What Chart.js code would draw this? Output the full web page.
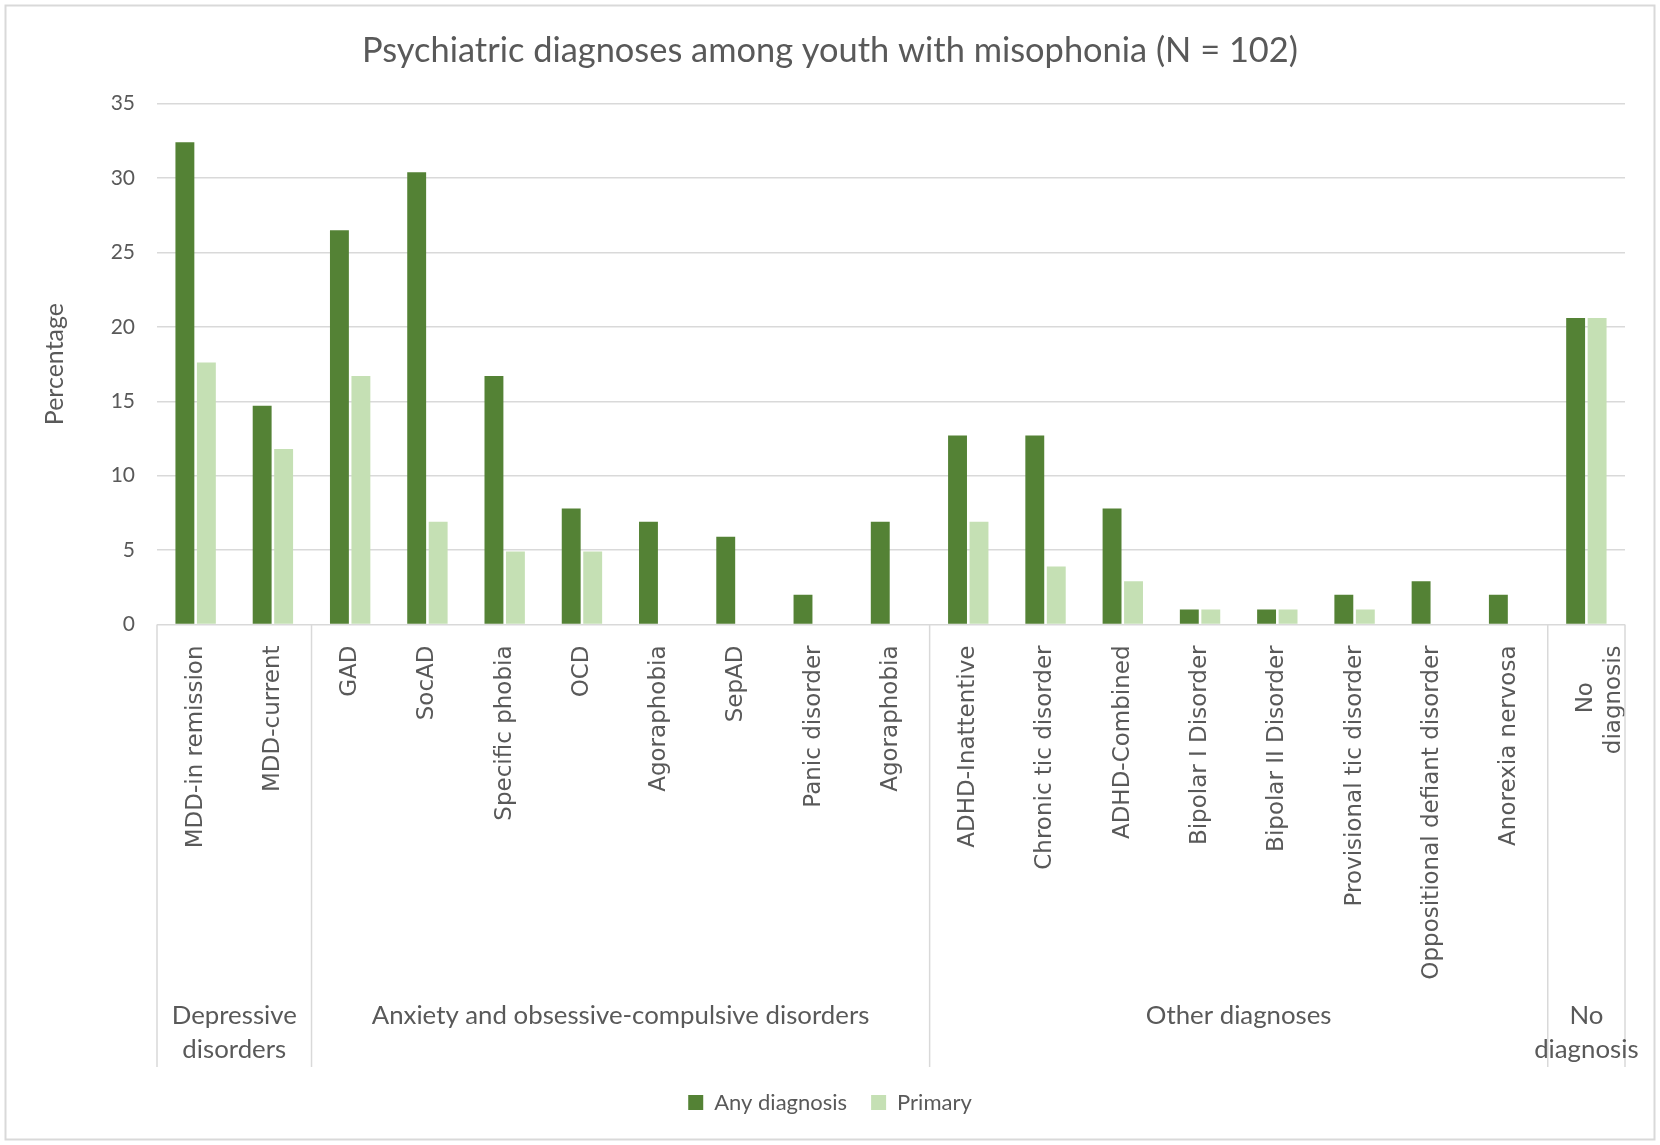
<!DOCTYPE html>
<html>
<head>
<meta charset="utf-8">
<title>Psychiatric diagnoses among youth with misophonia</title>
<script src="https://cdn.jsdelivr.net/npm/chart.js@4.4.1/dist/chart.umd.min.js"></script>
<style>
  html, body { margin: 0; padding: 0; background: #fff; overflow: hidden; }
  canvas { display: block; }
</style>
</head>
<body>
<canvas id="chart" width="1660" height="1145"></canvas>
<script>
// Data (percent of N = 102)
const categories = [
    'MDD-in remission', 'MDD-current',
    'GAD', 'SocAD', 'Specific phobia', 'OCD', 'Agoraphobia', 'SepAD', 'Panic disorder', 'Agoraphobia',
    'ADHD-Inattentive', 'Chronic tic disorder', 'ADHD-Combined', 'Bipolar I Disorder', 'Bipolar II Disorder',
    'Provisional tic disorder', 'Oppositional defiant disorder', 'Anorexia nervosa',
    ['No     ', 'diagnosis']
];
const anyDiagnosis = [32.4, 14.7, 26.5, 30.4, 16.7, 7.8, 6.9, 5.9, 2.0, 6.9, 12.7, 12.7, 7.8, 1.0, 1.0, 2.0, 2.9, 2.0, 20.6];
const primary      = [17.6, 11.8, 16.7, 6.9, 4.9, 4.9, 0, 0, 0, 0, 6.9, 3.9, 2.9, 1.0, 1.0, 1.0, 0, 0, 20.6];

const groupLabels = [['Depressive', 'disorders'], ['Anxiety and obsessive-compulsive disorders'], ['Other diagnoses'], ['No', 'diagnosis']];
const groupSizes = [2, 8, 8, 1];

const yTicks = [0, 5, 10, 15, 20, 25, 30, 35];

const textColor = '#595959';
const lineColor = '#d9d9d9';
const bodyFont = 'Lato';

// draws the second level of the category axis, the group dividers and the frame
const groupPlugin = {
    id: 'groups',
    afterDraw(chart) {
        const ctx = chart.ctx;
        const x = chart.scales.x;
        const bottom = chart.chartArea.bottom;
        const boundary = (i) => {
            if (i <= 0) return x.left;
            if (i >= categories.length) return x.right;
            return (x.getPixelForValue(i - 1) + x.getPixelForValue(i)) / 2;
        };

        ctx.save();
        ctx.strokeStyle = lineColor;
        ctx.lineWidth = 1.5;

        let start = 0;
        const edges = [0];
        groupSizes.forEach(n => { start += n; edges.push(start); });
        edges.forEach(i => {
            const px = boundary(i);
            ctx.beginPath();
            ctx.moveTo(px, bottom);
            ctx.lineTo(px, 1067);
            ctx.stroke();
        });

        ctx.fillStyle = textColor;
        ctx.font = '25.8px ' + bodyFont;
        ctx.textAlign = 'center';
        ctx.textBaseline = 'middle';
        groupLabels.forEach((lines, g) => {
            const cx = (boundary(edges[g]) + boundary(edges[g + 1])) / 2;
            lines.forEach((line, k) => {
                ctx.fillText(line, cx, 1016 + k * 34);
            });
        });

        // outer frame
        ctx.lineWidth = 2;
        ctx.strokeRect(5.5, 5.5, 1649, 1134);
        ctx.restore();
    }
};

const ctx = document.getElementById('chart').getContext('2d');
new Chart(ctx, {
    type: 'bar',
    data: {
        labels: categories,
        datasets: [
            {
                label: 'Any diagnosis',
                data: anyDiagnosis,
                backgroundColor: '#548235',
                borderWidth: 0,
                categoryPercentage: 0.556,
                barPercentage: 0.88
            },
            {
                label: 'Primary',
                data: primary,
                backgroundColor: '#c5e0b4',
                borderWidth: 0,
                categoryPercentage: 0.556,
                barPercentage: 0.88
            }
        ]
    },
    options: {
        responsive: false,
        animation: false,
        layout: {
            padding: { left: 35, right: 35, top: 0, bottom: 21.5 }
        },
        plugins: {
            title: {
                display: true,
                text: 'Psychiatric diagnoses among youth with misophonia (N = 102)',
                color: textColor,
                font: { family: bodyFont, size: 34.4, weight: 'normal' },
                padding: { top: 30, bottom: 32.4 }
            },
            legend: {
                position: 'bottom',
                labels: {
                    color: textColor,
                    font: { family: bodyFont, size: 22 },
                    boxWidth: 15,
                    boxHeight: 15,
                    padding: 24
                }
            },
            tooltip: { enabled: false }
        },
        scales: {
            x: {
                grid: { display: false },
                border: { display: false },
                ticks: {
                    autoSkip: false,
                    minRotation: 90,
                    maxRotation: 90,
                    padding: 13,
                    color: textColor,
                    font: { family: 'DejaVu Sans', size: 23 }
                },
                afterFit(scale) { scale.height = 443; }
            },
            y: {
                min: 0,
                max: 35,
                afterBuildTicks(scale) { scale.ticks = yTicks.map(v => ({ value: v })); },
                grid: { color: lineColor, lineWidth: 1.5, drawTicks: false },
                border: { display: false },
                ticks: {
                    padding: 22,
                    color: textColor,
                    font: { family: bodyFont, size: 21 }
                },
                title: {
                    display: true,
                    text: 'Percentage',
                    color: textColor,
                    font: { family: bodyFont, size: 25 },
                    padding: { top: 5, bottom: 0 }
                },
                afterFit(scale) { scale.width = 122; }
            }
        }
    },
    plugins: [groupPlugin]
});
</script>
</body>
</html>
